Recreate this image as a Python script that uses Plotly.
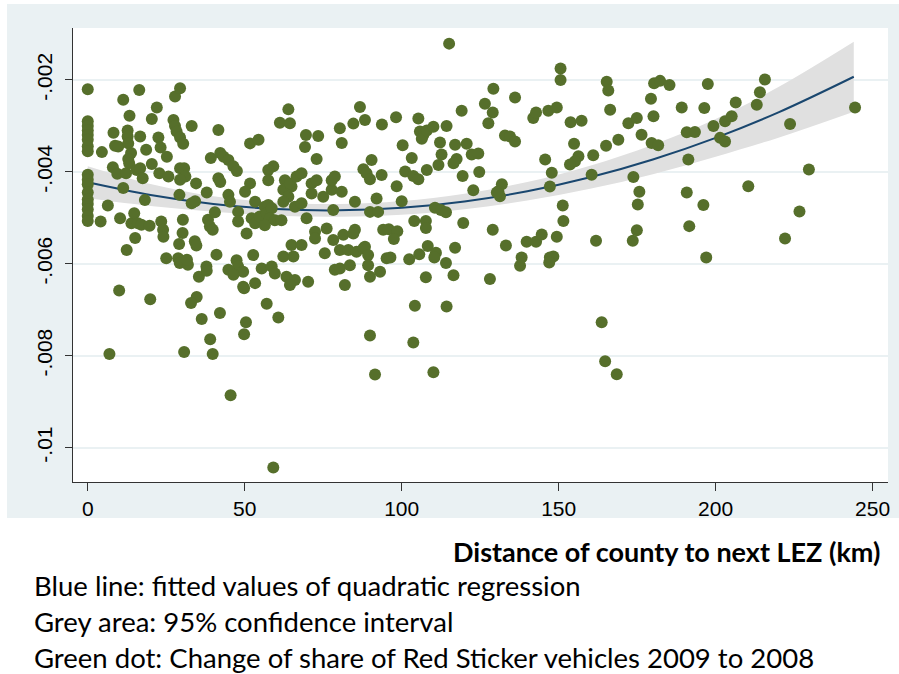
import plotly.graph_objects as go
import numpy as np

# ---- data ----
# distance of county to next LEZ (km)
dist_km = [
    0,0,0,0,0,0,0,0,0,0,0,0,0,0,0,0,0,
    4.5,4.1,6.4,6.9,8.2,8.0,8.7,9.7,9.4,10.3,10.0,11.3,11.3,12.2,12.4,12.7,12.7,12.9,13.8,12.9,
    13.2,13.3,13.9,14.8,15.1,15.6,16.4,16.7,16.7,16.0,17.1,17.5,18.2,18.6,19.7,19.9,20.4,20.4,
    22.0,22.5,22.8,23.2,23.4,24.0,24.1,25.2,25.7,25.0,27.3,27.8,27.8,28.3,29.4,29.4,30.4,29.4,
    30.7,31.1,29.4,29.2,30.3,30.2,29.1,28.8,29.3,31.9,31.6,30.7,33.1,33.1,34.2,34.5,34.1,34.6,
    34.7,32.9,35.4,36.3,37.8,37.9,37.9,38.3,38.9,39.8,39.2,39.0,39.8,
    41.6,42.2,43.3,44.8,46.4,47.5,51.7,54.4,61.2,64.4,63.9,59.1,57.5,69.5,73.4,69.2,72.9,80.3,
    80.9,84.6,86.7,88.3,93.7,90.4,87.8,98.2,100.3,105.3,105.8,106.9,106.4,108.0,110.1,112.2,
    114.3,115.1,103.2,112.7,111.7,108.0,101.1,
    41.6,42.2,44.8,45.3,40.5,41.0,
    51.7,50.1,47.9,47.9,50.6,53.3,52.2,53.3,54.8,56.4,57.5,57.0,58.6,58.0,56.4,59.6,61.7,57.5,
    62.8,62.3,63.9,64.9,64.4,62.3,66.0,68.1,66.5,68.1,71.3,72.9,71.3,75.0,77.7,77.7,80.9,78.7,
    69.7,72.4,72.4,76.1,78.2,81.4,85.1,84.6,78.2,85.1,89.9,92.5,92.0,93.6,94.1,64.9,68.1,62.3,
    65.5,75.5,80.3,83.0,85.6,87.8,88.3,89.3,95.2,52.7,47.4,47.9,44.8,49.5,55.4,58.6,59.6,63.3,
    66.0,64.4,70.2,53.3,49.5,78.7,80.3,83.5,89.3,93.1,89.9,81.9,
    98.4,100.0,103.7,105.3,110.6,112.5,114.1,95.9,98.6,97.5,96.4,102.4,105.6,104.0,107.7,107.7,
    108.3,110.9,110.4,114.1,107.7,88.8,89.9,
    42.1,45.5,49.8,50.4,49.8,57.0,60.7,59.1,46.4,89.9,91.5,104.2,103.7,110.1,114.3,116.5,
    117.0,120.7,117.5,116.5,119.4,122.3,124.4,124.7,122.8,119.6,117.0,
    119.1,126.5,127.6,129.0,129.2,136.1,132.9,134.5,136.1,131.9,130.8,131.3,130.3,129.0,133.2,
    128.1,137.7,138.2,139.8,142.8,144.6,149.4,151.5,151.3,147.2,148.3,147.0,141.9,142.8,146.7,
    149.4,150.6,150.6,153.8,157.3,154.9,156.3,155.2,153.6,145.7,147.8,147.2,161.0,160.5,161.9,
    165.3,165.8,166.4,165.1,169.0,172.2,174.9,176.4,173.8,175.7,175.2,174.9,173.6,179.4,180.2,
    180.4,182.3,185.3,179.6,181.7,189.2,190.8,193.4,191.3,190.8,191.6,196.1,197.0,196.4,197.5,
    199.3,201.4,203.0,203.0,205.1,206.4,210.4,213.1,214.1,215.7,222.1,223.7,226.7,229.7,244.4,
    163.7,164.8,168.5,
]
# change of share of red sticker vehicles (in thousandths)
change_permille = [
    -2.20,-2.90,-3.00,-3.10,-3.20,-3.30,-3.44,-3.55,-4.06,-4.17,-4.27,-4.45,-4.60,-4.70,-4.82,-4.96,-5.07,
    -3.57,-5.08,-4.73,-7.96,-3.15,-3.90,-3.43,-3.45,-4.04,-5.01,-6.58,-2.43,-4.35,-4.03,-5.70,-3.10,-3.23,-3.38,-3.59,-3.72,
    -3.81,-2.78,-5.12,-4.90,-5.44,-3.96,-2.22,-3.23,-3.92,-5.12,-5.15,-4.14,-4.61,-3.52,-5.17,-6.77,-2.85,-3.83,
    -2.60,-3.25,-4.03,-3.47,-5.08,-5.26,-5.41,-3.67,-4.10,-5.88,-2.87,-2.36,-3.00,-3.12,-2.18,-3.25,-3.39,-3.92,
    -3.92,-4.10,-4.17,-4.50,-5.04,-5.33,-5.57,-5.88,-5.98,-6.02,-5.91,-7.92,-3.00,-4.68,-4.64,-4.25,-5.51,-5.60,
    -6.72,-6.85,-6.28,-7.20,-6.06,-6.15,-4.45,-5.04,-5.19,-5.26,-3.70,-7.64,-7.96,
    -3.09,-3.59,-3.67,-3.74,-3.88,-3.98,-3.38,-3.30,-2.93,-2.94,-2.64,-3.88,-3.96,-3.20,-3.22,-3.46,-3.72,-3.05,
    -3.37,-2.95,-2.59,-2.87,-2.97,-3.74,-3.94,-2.81,-3.42,-2.84,-3.12,-3.20,-3.28,-3.10,-3.02,-3.36,
    -3.00,-1.21,-3.70,-3.62,-3.85,-3.96,-3.99,
    -4.14,-4.22,-4.50,-4.65,-4.88,-5.80,
    -4.25,-4.43,-4.87,-5.08,-5.34,-4.65,-5.01,-5.12,-4.97,-4.76,-4.72,-4.90,-4.79,-5.01,-5.16,-5.05,-5.05,-4.18,
    -4.18,-4.39,-4.54,-4.32,-4.25,-4.65,-4.76,-4.68,-4.10,-4.03,-4.25,-4.18,-4.47,-4.54,-4.39,-4.18,-4.43,-4.10,
    -5.01,-5.30,-5.45,-5.23,-5.48,-5.37,-5.26,-5.34,-4.83,-4.65,-4.87,-4.87,-4.58,-4.07,-5.26,-5.59,-5.59,-5.84,
    -5.84,-5.77,-5.70,-5.70,-5.74,-5.66,-5.63,-5.81,-5.88,-5.81,-5.92,-6.06,-6.13,-6.17,-6.10,-6.06,-6.21,-6.28,
    -6.35,-6.46,-6.39,-6.42,-6.50,-6.13,-6.10,-6.03,-6.03,-6.17,-6.28,-6.46,
    -4.31,-4.64,-4.09,-4.16,-4.78,-4.83,-4.88,-5.25,-5.29,-5.46,-5.86,-5.90,-5.79,-5.07,-5.07,-5.22,
    -5.61,-5.76,-5.86,-5.98,-6.29,-4.03,-4.16,
    -7.07,-8.86,-6.53,-7.27,-7.53,-6.87,-7.17,-10.43,-6.24,-7.56,-8.41,-6.91,-7.71,-8.36,-6.93,-6.25,
    -3.41,-3.39,-3.72,-3.81,-4.09,-3.62,-3.60,-4.00,-4.40,-5.11,-5.65,
    -2.67,-2.52,-2.94,-2.71,-2.19,-2.38,-3.21,-3.23,-3.34,-4.27,-4.42,-4.53,-4.45,-5.26,-5.60,
    -6.33,-6.04,-5.86,-5.52,-5.52,-5.36,-5.41,-5.07,-4.73,-5.86,-5.84,-5.97,-2.83,-2.71,-2.67,
    -2.60,-1.75,-2.00,-2.92,-2.89,-3.39,-3.66,-3.77,-3.84,-3.73,-4.02,-4.32,-3.64,-4.06,-5.50,
    -2.04,-2.23,-2.65,-3.43,-3.30,-2.94,-2.83,-3.19,-4.11,-4.43,-4.71,-5.27,-5.50,-2.41,-2.79,
    -2.07,-2.02,-2.11,-3.37,-3.42,-2.60,-3.14,-3.13,-3.73,-4.45,-5.18,-4.72,-5.86,-2.61,-2.09,
    -3.00,-3.26,-3.34,-2.90,-2.79,-2.49,-4.31,-2.54,-2.27,-1.99,-5.45,-2.96,-4.86,-3.95,-2.60,
    -7.27,-8.12,-8.40,
]

# fitted quadratic regression and its 95% confidence band (thousandths)
fit_x = [0, 20, 40, 60, 80, 100, 120, 140, 160, 180, 200, 220, 244]
fit_y = [-4.226, -4.503, -4.698, -4.809, -4.837, -4.782, -4.643, -4.422, -4.117, -3.730, -3.259, -2.705, -1.930]
ci_hi = [-3.876, -4.263, -4.528, -4.664, -4.697, -4.632, -4.473, -4.222, -3.867, -3.410, -2.849, -2.155, -1.170]
ci_lo = [-4.576, -4.743, -4.868, -4.954, -4.977, -4.932, -4.813, -4.622, -4.367, -4.050, -3.669, -3.255, -2.690]

y_tickvals = [-0.002, -0.004, -0.006, -0.008, -0.010]
y_ticktext = ["-.002", "-.004", "-.006", "-.008", "-.01"]
x_tickvals = [0, 50, 100, 150, 200, 250]

x_title = "Distance of county to next LEZ (km)"
notes = [
    "Blue line: fitted values of quadratic regression",
    "Grey area: 95% confidence interval",
    "Green dot: Change of share of Red Sticker vehicles 2009 to 2008",
]

PER_MILLE = 1e-3
sy = np.array(change_permille) * PER_MILLE
fy = np.array(fit_y) * PER_MILLE
lo = np.array(ci_lo) * PER_MILLE
hi = np.array(ci_hi) * PER_MILLE

GREEN = "#566f2b"
NAVY = "#1a476f"
BAND = "#e0e0e0"
OUTER = "#eaf1f3"
GRID = "#eaf1f3"

fig = go.Figure()
fig.add_trace(go.Scatter(x=fit_x, y=lo, mode="lines", line=dict(width=0, shape="spline"),
                         hoverinfo="skip", showlegend=False))
fig.add_trace(go.Scatter(x=fit_x, y=hi, mode="lines", line=dict(width=0, shape="spline"),
                         fill="tonexty", fillcolor=BAND, hoverinfo="skip", showlegend=False))
fig.add_trace(go.Scatter(x=fit_x, y=fy, mode="lines", line=dict(color=NAVY, width=2, shape="spline"),
                         showlegend=False))
fig.add_trace(go.Scatter(x=dist_km, y=sy, mode="markers",
                         marker=dict(color=GREEN, size=12, line=dict(width=0)),
                         showlegend=False))

L, R, T, B = 73, 11, 28, 192
W, H = 899, 674
pw, ph = W - L - R, H - T - B

def px2paper_x(px):
    return (px - L) / pw

def py2paper_y(py):
    return (H - B - py) / ph

shapes = [
    dict(type="rect", xref="paper", yref="paper", layer="below",
         x0=px2paper_x(7), x1=px2paper_x(899), y0=py2paper_y(518), y1=py2paper_y(4),
         fillcolor=OUTER, line=dict(width=0)),
    dict(type="rect", xref="paper", yref="paper", layer="below",
         x0=0, x1=1, y0=0, y1=1, fillcolor="white", line=dict(width=0)),
]

annotations = [
    dict(text="<b>" + x_title + "</b>", xref="paper", yref="paper",
         x=px2paper_x(882), y=py2paper_y(551), xanchor="right", yanchor="middle",
         showarrow=False, font=dict(family="Lato", size=27, color="black")),
]
for i, t in enumerate(notes):
    annotations.append(dict(text=t, xref="paper", yref="paper",
                            x=px2paper_x(32), y=py2paper_y(585 + 36 * i),
                            xanchor="left", yanchor="middle", showarrow=False,
                            font=dict(family="Lato", size=27.5, color="black")))

fig.update_layout(
    width=W, height=H,
    margin=dict(l=L, r=R, t=T, b=B, autoexpand=False),
    paper_bgcolor="white", plot_bgcolor="white",
    shapes=shapes, annotations=annotations,
    xaxis=dict(range=[-4.7, 254.9], tickvals=x_tickvals, showgrid=False, zeroline=False,
               automargin=False,
               showline=True, linecolor="#333333", linewidth=1,
               ticks="outside", ticklen=8, tickcolor="#333333",
               tickfont=dict(family="Liberation Sans", size=21, color="black")),
    yaxis=dict(range=[-0.010746, -0.00087], tickvals=y_tickvals, ticktext=y_ticktext,
               automargin=False,
               tickangle=-90, showgrid=True, gridcolor=GRID, gridwidth=2, zeroline=False,
               showline=True, linecolor="#333333", linewidth=1,
               ticks="outside", ticklen=7, tickcolor="#333333", ticklabelstandoff=5,
               tickfont=dict(family="Liberation Sans", size=21, color="black")),
)

fig.write_html("out.html", config={"displayModeBar": False},
               post_script="document.body.style.margin='0';document.body.style.overflow='hidden';")
